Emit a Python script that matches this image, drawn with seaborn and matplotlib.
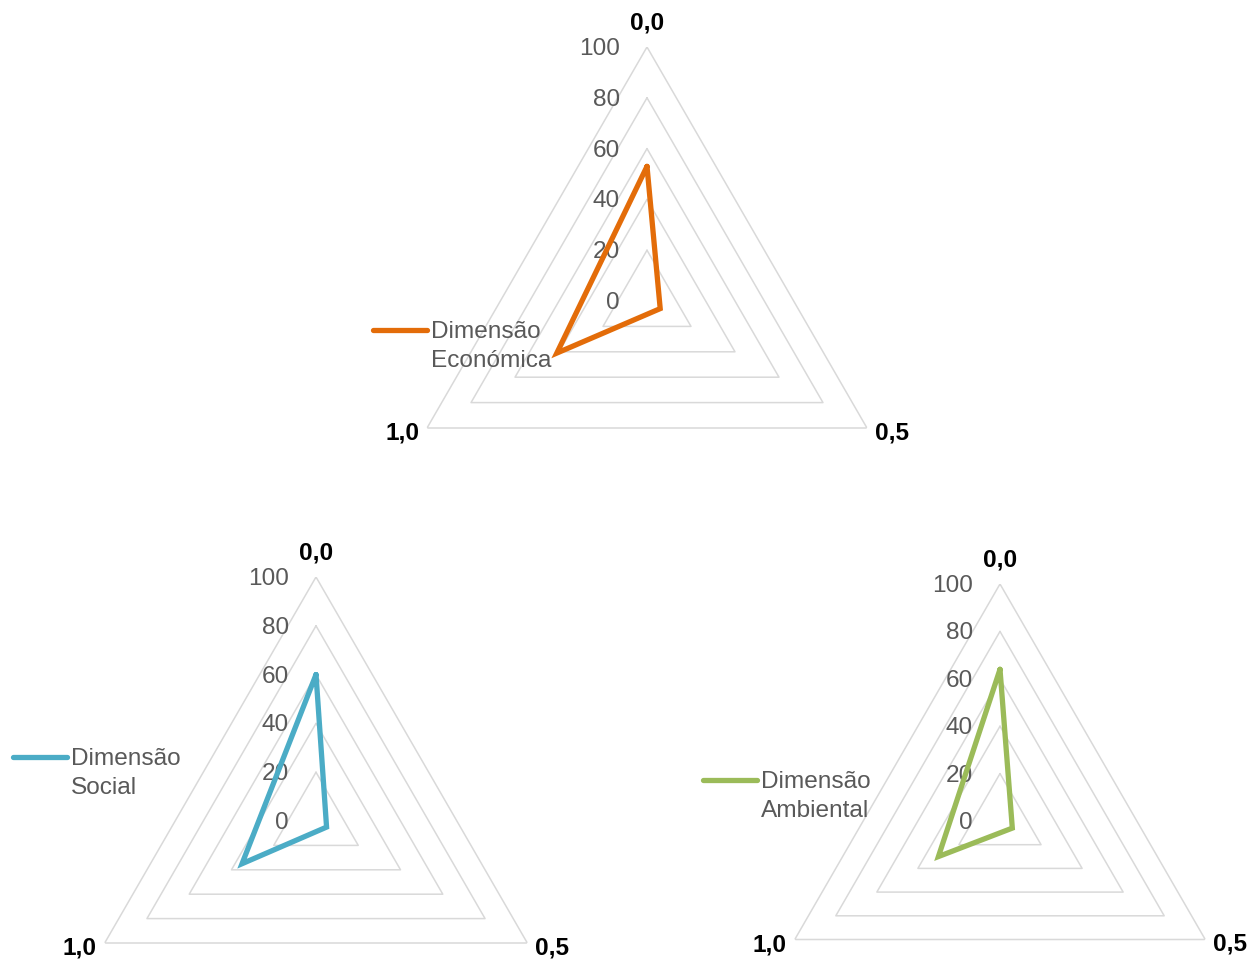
import numpy as np
import matplotlib
matplotlib.use("Agg")
import matplotlib.pyplot as plt
from matplotlib.lines import Line2D
import seaborn as sns

sns.set_style("white")
plt.rcParams["font.family"] = ["Liberation Sans", "DejaVu Sans"]

# Axis categories (clockwise from the top) and radial scale
categories = ["0,0", "0,5", "1,0"]
levels = [20, 40, 60, 80, 100]
level_labels = ["0", "20", "40", "60", "80", "100"]

# Scores per dimension, in category order
economica = [53, 6, 41]
social = [60, 5, 35]
ambiental = [64, 6, 30]

names = [("Dimensão", "Económica"), ("Dimensão", "Social"), ("Dimensão", "Ambiental")]
colors = ["#E36C09", "#4BACC6", "#9BBB59"]

W, H = 1253, 959
DPI = 100
fig = plt.figure(figsize=(W / DPI, H / DPI), dpi=DPI)

GRID = "#D9D9D9"
TXT = "#595959"
FS = 17.6
PX = 72 / DPI  # points per pixel
EM = FS / PX   # font size in pixels

# (centre x, centre y, radius) in pixels, plus legend anchor (x, y)
panels = [
    ((647, 301, 254), (373, 321), economica),
    ((316, 821, 244), (13, 748), social),
    ((1000, 821, 237), (703, 771), ambiental),
]

theta = np.deg2rad([0, 120, 240])
theta_closed = np.append(theta, 2 * np.pi)

for (geom, leg_xy, values), name, color in zip(panels, names, colors):
    cx, cy, R = geom
    ax = fig.add_axes([(cx - R) / W, (H - cy - R) / H, 2 * R / W, 2 * R / H],
                      projection="polar")
    ax.set_theta_offset(np.pi / 2)
    ax.set_theta_direction(-1)
    ax.set_ylim(0, 100)
    ax.grid(False)
    ax.set_xticks([])
    ax.set_yticks([])
    ax.spines["polar"].set_visible(False)
    ax.patch.set_alpha(0)

    # triangular gridlines
    for lvl in levels:
        ax.plot(theta_closed, [lvl] * 4, color=GRID, lw=1.1, zorder=1)

    # radial labels to the left of the vertical axis
    for lvl, lab in zip([0] + levels, level_labels):
        ax.annotate(lab, xy=(0, lvl), xytext=(-27 * PX, -2 * PX),
                    textcoords="offset points", ha="right", va="center",
                    fontsize=FS, color=TXT, zorder=2)

    # category labels
    offsets = [((0, 24), "center"), ((8, -5), "left"), ((-8, -5), "right")]
    for t, cat, (off, ha) in zip(theta, categories, offsets):
        ax.annotate(cat, xy=(t, 100), xytext=(off[0] * PX, off[1] * PX),
                    textcoords="offset points", ha=ha, va="center",
                    fontsize=FS, fontweight="bold", color="black")

    # closed polygon of the three scores
    vals_closed = list(values) + [values[0]]
    sns.lineplot(x=theta_closed, y=vals_closed, sort=False, estimator=None,
                 ax=ax, color=color, linewidth=3.8, legend=False, zorder=3)
    line = ax.lines[-1]
    line.set_solid_joinstyle("miter")

    # legend: coloured key beside the first word, second word below it
    blank = Line2D([], [], alpha=0)
    fig.legend([line, blank], list(name), loc="upper left",
               bbox_to_anchor=(leg_xy[0] / W, 1 - leg_xy[1] / H),
               frameon=False, fontsize=FS, labelcolor=TXT,
               handlelength=54 / EM, handletextpad=4 / EM,
               borderpad=0, borderaxespad=0, labelspacing=7 / EM)

fig.savefig("out.png", dpi=DPI)
